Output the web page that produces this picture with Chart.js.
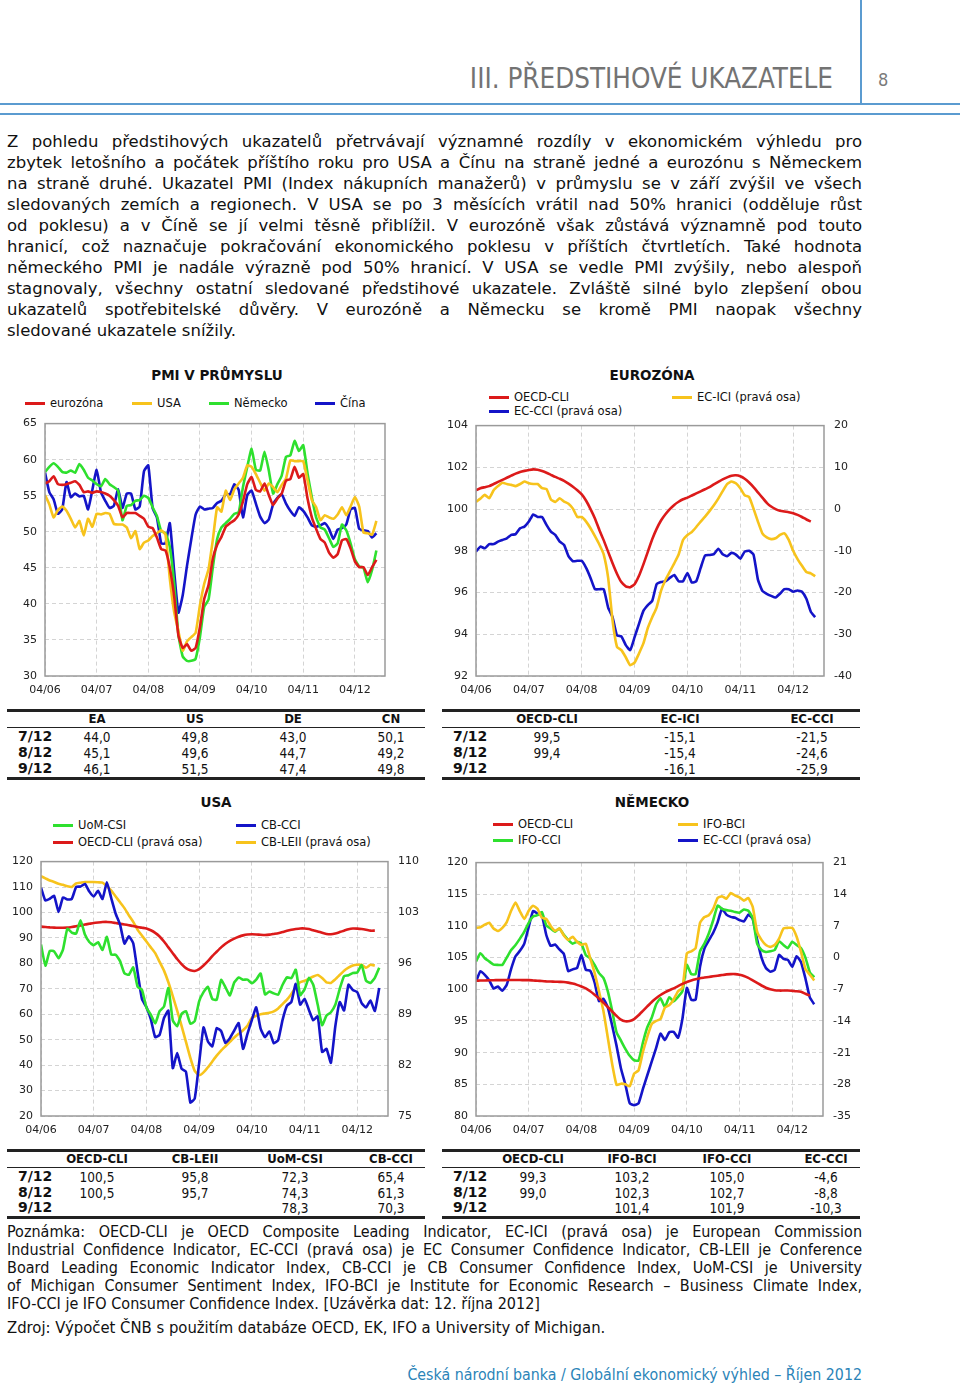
<!DOCTYPE html>
<html><head><meta charset="utf-8">
<script src="https://cdn.jsdelivr.net/npm/chart.js@4"></script>
<style>
body{margin:0;width:960px;height:1387px;position:relative;background:#fff;font-family:"DejaVu Sans",Verdana,sans-serif;color:#111;overflow:hidden}
.a{position:absolute}
.just div{text-align:justify;text-align-last:justify}
.just div.l{text-align-last:left}
.para{left:7px;top:131px;width:855px;font-size:16.5px;line-height:21px;color:#111}
.note{left:7px;top:1223px;width:855px;font-family:"Liberation Sans Narrow","DejaVu Sans Condensed","DejaVu Sans",sans-serif;font-stretch:condensed;font-size:16px;line-height:18px;color:#111}
.ctitle{font-weight:bold;font-size:13.5px;transform:translateX(-50%);white-space:nowrap}
.leg{font-size:11.5px;white-space:nowrap;line-height:14px}
.leg i{position:absolute;left:-25px;top:6px;width:20px;height:3px}
.tb{font-family:"Liberation Sans Narrow","DejaVu Sans Condensed","DejaVu Sans",sans-serif;font-stretch:condensed;font-size:13.5px;white-space:nowrap}
.hl{background:#222}
canvas{position:absolute}
</style></head>
<body>
<div class="a" style="left:860px;top:0;width:1.5px;height:104px;background:#5b9bd0"></div>
<div class="a" style="left:0;top:103px;width:960px;height:2px;background:#5b9bd0"></div>
<div class="a" style="left:0;top:113px;width:960px;height:2px;background:#5b9bd0"></div>
<div class="a" style="right:127px;top:62px;font-family:'Liberation Sans Narrow','DejaVu Sans Condensed','DejaVu Sans',sans-serif;font-stretch:condensed;font-size:27.5px;color:#737373;white-space:nowrap">III. PŘEDSTIHOVÉ UKAZATELE</div>
<div class="a" style="left:878px;top:69px;font-family:'Liberation Sans Narrow','DejaVu Sans Condensed','DejaVu Sans',sans-serif;font-size:18px;color:#7a7a7a">8</div>

<div class="a para just">
<div>Z pohledu předstihových ukazatelů přetrvávají významné rozdíly v ekonomickém výhledu pro</div>
<div>zbytek letošního a počátek příštího roku pro USA a Čínu na straně jedné a eurozónu s Německem</div>
<div>na straně druhé. Ukazatel PMI (Index nákupních manažerů) v průmyslu se v září zvýšil ve všech</div>
<div>sledovaných zemích a regionech. V USA se po 3 měsících vrátil nad 50% hranici (odděluje růst</div>
<div>od poklesu) a v Číně se jí velmi těsně přiblížil. V eurozóně však zůstává významně pod touto</div>
<div>hranicí, což naznačuje pokračování ekonomického poklesu v příštích čtvrtletích. Také hodnota</div>
<div>německého PMI je nadále výrazně pod 50% hranicí. V USA se vedle PMI zvýšily, nebo alespoň</div>
<div>stagnovaly, všechny ostatní sledované předstihové ukazatele. Zvláště silné bylo zlepšení obou</div>
<div>ukazatelů spotřebitelské důvěry. V eurozóně a Německu se kromě PMI naopak všechny</div>
<div class="l">sledované ukazatele snížily.</div>
</div>

<div class="a ctitle" style="left:217px;top:367px">PMI V PRŮMYSLU</div>
<div class="a ctitle" style="left:652px;top:367px">EUROZÓNA</div>
<div class="a ctitle" style="left:216px;top:794px">USA</div>
<div class="a ctitle" style="left:652px;top:794px">NĚMECKO</div>
<div id="legends"></div>

<canvas id="c1" width="400" height="294" style="left:0;top:409px;width:400px;height:294px"></canvas>
<canvas id="c2" width="450" height="294" style="left:430px;top:409px;width:450px;height:294px"></canvas>
<canvas id="c3" width="430" height="298" style="left:0;top:845px;width:430px;height:298px"></canvas>
<canvas id="c4" width="450" height="297" style="left:430px;top:846px;width:450px;height:297px"></canvas>

<div id="tables"></div>

<div class="a note just">
<div>Poznámka: OECD-CLI je OECD Composite Leading Indicator, EC-ICI (pravá osa) je European Commission</div>
<div>Industrial Confidence Indicator, EC-CCI (pravá osa) je EC Consumer Confidence Indicator, CB-LEII je Conference</div>
<div>Board Leading Economic Indicator Index, CB-CCI je CB Consumer Confidence Index, UoM-CSI je University</div>
<div>of Michigan Consumer Sentiment Index, IFO-BCI je Institute for Economic Research – Business Climate Index,</div>
<div class="l">IFO-CCI je IFO Consumer Confidence Index. [Uzávěrka dat: 12. října 2012]</div>
</div>
<div class="a" style="left:7px;top:1318px;font-family:'Liberation Sans Narrow','DejaVu Sans Condensed','DejaVu Sans',sans-serif;font-stretch:condensed;font-size:16.5px;color:#111;white-space:nowrap">Zdroj: Výpočet ČNB s použitím databáze OECD, EK, IFO a University of Michigan.</div>
<div class="a" style="right:98px;top:1365px;font-family:'Liberation Sans Narrow','DejaVu Sans Condensed','DejaVu Sans',sans-serif;font-stretch:condensed;font-size:15.8px;color:#2b84b8;white-space:nowrap">Česká národní banka / Globální ekonomický výhled – Říjen 2012</div>

<script>
// ---- tick labels (x axis, one per April) ----
const tickLabels = ['04/06','04/07','04/08','04/09','04/10','04/11','04/12'];

// ---- PMI v průmyslu, monthly 04/2006 - 09/2012 ----
const pmiEA = [56.7,57.0,57.7,56.6,56.5,56.6,56.8,57.0,56.5,55.5,55.6,55.4,
 55.6,55.5,55.3,55.0,54.4,53.6,52.0,52.6,52.6,52.6,52.2,51.8,
 50.7,50.5,49.2,47.6,47.4,45.0,41.1,35.6,33.9,34.4,33.5,33.9,
 36.8,40.7,42.6,46.3,48.2,49.3,50.7,51.2,51.6,52.4,54.2,56.6,
 57.6,55.8,55.6,56.7,55.1,53.7,54.6,55.3,57.1,57.3,59.0,57.5,
 58.0,54.6,52.0,50.4,49.0,48.5,47.1,46.4,46.9,48.8,49.0,47.7,
 45.9,45.1,45.1,44.0,45.1,46.1];
const pmiUS = [55.1,53.8,52.0,53.0,53.5,52.9,51.8,50.6,51.5,49.5,51.8,50.7,
 52.5,52.4,52.6,52.5,51.1,51.0,51.0,50.6,49.1,50.1,47.6,48.5,
 48.8,49.4,49.8,50.2,49.6,43.5,38.9,36.2,33.5,34.8,35.4,36.0,
 39.8,42.8,44.8,48.9,53.4,52.8,55.7,54.4,55.9,56.7,57.5,59.2,
 59.0,58.0,56.8,55.7,56.7,56.2,55.5,56.5,57.4,59.9,59.8,59.8,
 59.8,57.1,54.4,53.4,51.6,52.3,52.0,51.8,52.4,53.4,52.3,53.5,
 54.8,53.5,49.9,49.8,49.6,51.5];
const pmiDE = [58.3,59.0,59.5,59.0,58.3,58.2,58.5,58.2,59.4,58.6,57.5,57.1,
 56.6,56.3,57.3,56.6,56.2,55.7,51.6,53.6,53.7,54.3,54.4,55.0,
 54.7,53.4,52.2,50.1,49.8,47.9,42.9,35.7,32.7,32.1,32.1,32.4,
 35.4,39.6,40.6,45.1,49.0,50.6,51.2,51.8,52.5,52.7,56.2,59.0,
 61.5,58.6,58.5,61.1,58.5,55.3,56.6,57.8,60.4,60.6,62.6,61.2,
 62.0,58.1,54.8,52.0,50.6,50.3,49.1,47.9,48.4,51.0,50.2,48.4,
 46.2,45.2,45.0,43.0,44.7,47.4];
const pmiCN = [58.2,55.5,54.5,52.5,53.1,56.9,54.8,55.3,54.9,55.0,53.1,55.8,
 58.6,55.5,54.3,53.3,53.6,55.9,53.3,55.3,55.3,53.1,53.5,58.4,
 59.2,53.3,52.0,48.4,48.4,51.2,44.6,38.8,41.2,45.3,49.0,52.4,
 53.5,53.1,53.2,53.3,54.0,54.3,55.2,55.2,56.6,55.8,52.0,55.1,
 55.7,53.9,52.1,51.2,51.7,53.8,54.7,55.2,53.9,52.9,52.2,53.4,
 52.9,52.0,50.9,50.7,50.9,51.2,50.4,49.0,50.3,50.5,51.0,53.1,
 53.3,50.4,50.2,50.1,49.2,49.8];

// ---- Eurozóna ----
const eaCLI = [100.9,101.0,101.05,101.1,101.2,101.3,101.4,101.5,101.6,101.7,101.78,101.83,
 101.87,101.9,101.88,101.82,101.74,101.64,101.54,101.45,101.35,101.22,101.07,100.9,
 100.7,100.4,100.0,99.55,99.0,98.5,97.95,97.4,96.9,96.5,96.3,96.25,
 96.4,96.8,97.35,97.95,98.55,99.05,99.45,99.75,100.0,100.2,100.35,100.47,
 100.55,100.65,100.75,100.85,100.95,101.05,101.18,101.3,101.42,101.52,101.6,101.62,
 101.57,101.45,101.27,101.05,100.8,100.55,100.3,100.12,100.0,99.92,99.88,99.85,
 99.8,99.72,99.62,99.5,99.4,null];
const eaICI = [1.7,2.5,3.4,2.6,4.5,5.5,6.3,6.0,5.8,5.5,6.0,6.6,
 6.2,6.0,6.0,5.0,4.8,2.3,1.7,2.6,1.8,1.3,0.1,-1.9,
 -1.9,-3.0,-4.6,-6.5,-8.5,-10.9,-16.5,-26.7,-33.0,-33.8,-35.5,-37.4,
 -36.8,-34.6,-32.2,-28.5,-25.9,-23.6,-19.6,-17.0,-15.0,-13.0,-10.9,-7.4,
 -6.2,-5.5,-4.3,-3.0,-1.8,-0.5,0.9,2.5,4.3,6.0,6.6,6.2,
 5.0,3.3,2.9,0.1,-3.0,-5.8,-6.8,-7.2,-7.0,-6.2,-5.8,-7.4,
 -10.0,-12.0,-13.6,-15.1,-15.4,-16.1];
const eaCCI = [-10.2,-9.0,-9.4,-8.4,-8.4,-7.8,-7.4,-7.0,-6.2,-6.0,-4.6,-4.2,
 -3.0,-1.3,-1.9,-1.9,-3.8,-5.4,-6.2,-7.8,-8.6,-11.3,-12.5,-12.4,
 -12.4,-14.1,-16.5,-19.2,-19.2,-19.2,-23.6,-25.9,-30.3,-30.5,-32.6,-33.8,
 -30.7,-27.5,-24.4,-23.0,-22.0,-18.0,-17.5,-17.3,-16.5,-15.8,-17.3,-17.3,
 -15.3,-17.6,-17.3,-14.1,-11.1,-11.0,-10.8,-9.5,-10.8,-11.3,-10.5,-10.9,
 -11.9,-10.2,-10.0,-10.9,-16.9,-19.6,-20.3,-20.8,-21.2,-20.3,-19.2,-19.2,
 -19.8,-19.5,-19.8,-21.5,-24.6,-25.9];

// ---- USA ----
const usCSI = [87.4,79.1,84.9,84.7,82.0,85.4,93.6,92.1,91.7,96.9,91.3,88.4,
 87.1,88.3,85.3,90.4,83.4,83.4,80.9,76.1,75.5,78.4,70.8,69.5,
 62.6,59.8,56.4,61.2,63.0,70.3,57.6,55.3,60.1,61.2,56.3,57.3,
 65.1,68.7,70.8,66.0,65.7,73.5,70.6,67.4,72.5,74.4,73.6,73.6,
 72.2,73.6,76.0,67.8,68.9,68.2,67.7,71.6,74.5,74.2,77.5,67.5,
 69.8,74.3,71.5,63.7,55.7,59.5,60.8,63.7,69.9,75.0,75.3,76.2,
 76.4,79.3,73.2,72.3,74.3,78.3];
const usCCI = [109.8,104.7,105.4,106.5,100.2,105.9,105.1,105.3,110.0,110.2,111.2,108.2,
 106.3,108.5,105.3,111.9,105.6,99.5,95.2,87.8,90.6,87.9,76.4,65.9,
 62.8,58.1,51.0,51.9,58.5,61.4,38.8,44.7,38.6,37.4,25.3,26.9,
 40.8,54.8,49.3,47.4,54.5,53.4,48.7,50.6,53.6,56.5,46.4,52.3,
 57.7,62.7,54.3,51.0,53.2,48.6,49.9,57.8,63.4,64.8,72.0,63.8,
 66.0,61.7,57.6,59.2,45.2,46.4,40.9,55.2,64.8,61.5,71.6,69.5,
 68.7,64.4,62.7,65.4,61.3,70.3];
const usCLI = [101.05,101.0,100.95,100.92,100.9,100.9,100.92,101.0,101.1,101.2,101.35,101.45,
 101.55,101.62,101.68,101.7,101.65,101.55,101.45,101.35,101.25,101.15,101.0,100.9,
 100.8,100.55,100.2,99.7,99.0,98.2,97.4,96.6,95.9,95.35,95.05,94.95,
 95.2,95.7,96.3,97.0,97.6,98.2,98.7,99.1,99.4,99.65,99.85,99.97,
 100.0,99.98,99.93,99.9,99.95,100.05,100.15,100.3,100.48,100.62,100.72,100.8,
 100.8,100.72,100.55,100.4,100.2,100.05,100.0,100.1,100.3,100.5,100.7,100.8,
 100.78,100.72,100.62,100.5,100.5,null];
const usLEI = [108.0,107.7,107.4,107.2,106.95,106.8,106.6,106.5,107.0,107.1,107.2,107.2,
 107.2,107.15,107.1,106.6,106.0,105.2,104.4,103.6,102.6,101.7,100.6,99.8,
 99.0,98.2,97.4,96.2,95.0,93.4,91.5,89.5,87.4,85.2,83.0,81.2,
 80.6,81.0,81.7,82.5,83.3,84.0,84.6,85.2,85.8,86.3,86.8,87.4,
 88.5,88.8,89.0,89.1,89.2,89.4,89.8,90.4,91.0,91.8,92.7,93.4,
 93.6,93.9,94.2,94.4,94.0,93.4,93.3,93.8,94.4,95.0,95.4,95.7,
 95.8,95.8,95.4,95.8,95.7,null];

// ---- Německo ----
const deCLI = [101.35,101.38,101.4,101.42,101.44,101.45,101.45,101.46,101.47,101.47,101.46,101.45,
 101.45,101.4,101.35,101.3,101.25,101.22,101.2,101.17,101.15,101.05,100.9,100.7,
 100.45,100.15,99.7,99.15,98.55,97.9,97.2,96.5,95.8,95.2,94.95,95.0,
 95.3,95.9,96.6,97.3,98.0,98.6,99.1,99.5,99.85,100.15,100.5,100.85,
 101.15,101.4,101.6,101.75,101.85,101.95,102.05,102.15,102.25,102.35,102.4,102.4,
 102.3,102.1,101.8,101.4,101.0,100.6,100.25,100.0,99.85,99.8,99.8,99.8,
 99.75,99.7,99.6,99.3,99.0,null];
const deBCI = [109.7,109.8,110.2,110.5,109.6,109.2,109.7,110.6,112.4,113.7,112.3,111.1,
 112.4,113.2,112.7,111.3,111.1,110.0,109.2,109.6,108.5,107.8,108.3,107.5,
 107.0,107.2,104.9,102.6,99.7,96.6,92.4,88.2,84.9,85.1,85.0,84.7,
 86.7,87.2,90.1,92.5,94.5,95.0,95.3,97.1,97.5,98.4,99.7,100.2,
 105.7,106.0,106.5,110.5,111.4,111.7,112.7,114.4,114.7,114.3,115.2,114.8,
 114.5,114.0,114.4,113.0,109.1,107.8,107.0,106.7,107.0,108.0,109.6,109.7,
 109.7,108.3,105.9,103.2,102.3,101.4];
const deIFOCCI = [104.4,105.7,104.9,104.4,103.9,103.85,103.85,105.0,106.2,107.0,108.0,109.1,
 110.5,111.5,111.7,112.2,110.1,109.6,109.1,109.6,108.6,107.8,107.2,107.5,
 107.2,105.4,104.9,103.85,102.55,101.8,99.7,96.6,93.2,91.9,90.6,89.5,
 88.8,88.75,91.6,94.0,95.5,97.6,98.6,97.2,98.75,98.1,98.8,99.7,
 103.85,102.4,102.4,106.0,107.2,108.8,110.9,113.2,112.7,112.5,112.4,112.2,
 112.1,112.6,112.4,111.25,107.2,106.2,105.9,106.0,106.2,107.6,107.0,106.5,
 107.5,107.0,106.5,105.0,102.7,101.9];
const deECCCI = [-5.3,-3.0,-3.8,-5.0,-6.8,-6.4,-7.3,-6.0,-2.5,0.3,1.5,3.1,
 6.8,10.3,9.7,9.3,5.0,2.6,2.9,1.8,0.8,-3.0,-2.6,-2.3,
 0.6,-2.7,-2.9,-5.5,-9.6,-9.1,-11.0,-15.0,-19.5,-24.5,-28.0,-32.2,
 -32.6,-32.2,-29.0,-26.0,-23.0,-20.0,-16.8,-18.2,-16.5,-16.4,-17.7,-13.5,
 -6.7,-9.3,-9.3,-2.0,2.0,3.8,5.5,7.8,10.8,9.5,9.0,8.8,
 8.3,8.0,9.5,8.6,4.0,0.0,-2.3,-3.1,-2.7,0.6,-0.3,-0.5,
 -2.0,0.3,-1.0,-4.6,-8.8,-10.3];

// ---- tables ----
const rowLabels = ['7/12','8/12','9/12'];
const tPMIhead = ['EA','US','DE','CN'];
const tPMI = [['44,0','49,8','43,0','50,1'],['45,1','49,6','44,7','49,2'],['46,1','51,5','47,4','49,8']];
const tEAhead = ['OECD-CLI','EC-ICI','EC-CCI'];
const tEA = [['99,5','-15,1','-21,5'],['99,4','-15,4','-24,6'],['','-16,1','-25,9']];
const tUShead = ['OECD-CLI','CB-LEII','UoM-CSI','CB-CCI'];
const tUS = [['100,5','95,8','72,3','65,4'],['100,5','95,7','74,3','61,3'],['','','78,3','70,3']];
const tDEhead = ['OECD-CLI','IFO-BCI','IFO-CCI','EC-CCI'];
const tDE = [['99,3','103,2','105,0','-4,6'],['99,0','102,3','102,7','-8,8'],['','101,4','101,9','-10,3']];

const C = {red:'#dc1a1a', yel:'#f7c31c', grn:'#2ee02e', blu:'#1414c8'};

// ---- legends ----
const legendDefs = [
  [['eurozóna',C.red,50,396],['USA',C.yel,157,396],['Německo',C.grn,234,396],['Čína',C.blu,340,396]],
  [['OECD-CLI',C.red,514,390],['EC-CCI (pravá osa)',C.blu,514,404],['EC-ICI (pravá osa)',C.yel,697,390]],
  [['UoM-CSI',C.grn,78,818],['OECD-CLI (pravá osa)',C.red,78,835],['CB-CCI',C.blu,261,818],['CB-LEII (pravá osa)',C.yel,261,835]],
  [['OECD-CLI',C.red,518,817],['IFO-CCI',C.grn,518,833],['IFO-BCI',C.yel,703,817],['EC-CCI (pravá osa)',C.blu,703,833]]
];
let lh='';
legendDefs.forEach(g=>g.forEach(([t,c,x,y])=>{lh+=`<div class="a leg" style="left:${x}px;top:${y}px"><i style="background:${c}"></i>${t}</div>`;}));
document.getElementById('legends').innerHTML=lh;

// ---- tables html ----
function table(x0,x1,yTop,rowYs,heads,rows,cols){
  let h=`<div class="a hl" style="left:${x0}px;top:${yTop}px;width:${x1-x0}px;height:2.5px"></div>`;
  h+=`<div class="a hl" style="left:${x0}px;top:${yTop+18}px;width:${x1-x0}px;height:1px"></div>`;
  h+=`<div class="a hl" style="left:${x0}px;top:${rowYs[2]+8}px;width:${x1-x0}px;height:2.5px"></div>`;
  heads.forEach((t,i)=>{h+=`<div class="a tb" style="left:${cols[i]}px;top:${yTop+2}px;transform:translateX(-50%);font-weight:bold;font-size:13px">${t}</div>`;});
  rowLabels.forEach((r,j)=>{h+=`<div class="a tb" style="left:${x0+11}px;top:${rowYs[j]-9}px;font-weight:bold;font-size:14px;font-family:'DejaVu Sans';font-stretch:normal">${r}</div>`;
    rows[j].forEach((v,i)=>{h+=`<div class="a tb" style="left:${cols[i]}px;top:${rowYs[j]-8}px;transform:translateX(-50%)">${v}</div>`;});});
  return h;
}
let th='';
th+=table(7,425,709,[737,753,769],tPMIhead,tPMI,[97,195,293,391]);
th+=table(442,860,709,[737,753,769],tEAhead,tEA,[547,680,812]);
th+=table(7,425,1149,[1177,1193,1208],tUShead,tUS,[97,195,295,391]);
th+=table(442,860,1149,[1177,1193,1208],tDEhead,tDE,[533,632,727,826]);
document.getElementById('tables').innerHTML=th;

// ---- charts ----
const boxPlugin={id:'box',afterDraw(ch){const a=ch.chartArea,c=ch.ctx;c.save();c.strokeStyle='#9a9a9a';c.lineWidth=1.5;c.strokeRect(a.left,a.top,a.right-a.left,a.bottom-a.top);c.restore();}};
const tickFont={family:'DejaVu Sans',size:11};
function ser(arr,color,axis){return {data:arr.map((v,i)=>({x:i,y:v})),borderColor:color,borderWidth:2.6,pointRadius:0,tension:0.15,fill:false,yAxisID:axis||'y',spanGaps:false};}
function yAxis(min,max,step,pos,w,grid){return {type:'linear',position:pos,min:min,max:max,
  ticks:{stepSize:step,font:tickFont,color:'#222',padding:pos==='left'?8:10},
  grid:{display:grid,color:'#d4d4d4',lineWidth:1,drawTicks:false},
  border:{display:false,dash:[4,3]},
  afterFit:s=>{s.width=w;}};}
function makeChart(id,datasets,yl,yr,lw,rw,xh){
  const scales={
    x:{type:'linear',min:0,max:79,
      afterBuildTicks:s=>{s.ticks=s.ticks.filter(t=>t.value%12===0);},
      ticks:{stepSize:12,autoSkip:false,maxRotation:0,font:tickFont,color:'#222',padding:8,callback:v=>tickLabels[Math.round(v/12)]},
      grid:{color:'#d4d4d4',lineWidth:1,drawTicks:false},border:{display:false,dash:[4,3]},
      afterFit:s=>{s.height=xh;}},
    y:yAxis(yl[0],yl[1],yl[2],'left',lw,true)};
  if(yr) scales.y1=yAxis(yr[0],yr[1],yr[2],'right',rw,false);
  return new Chart(document.getElementById(id),{type:'line',data:{datasets:datasets},
    options:{responsive:false,animation:false,devicePixelRatio:1,
      layout:{padding:{top:5,right:yr?0:15,left:0,bottom:0}},
      plugins:{legend:{display:false},tooltip:{enabled:false}},scales:scales},plugins:[boxPlugin]});
}
makeChart('c1',[ser(pmiEA,C.red),ser(pmiUS,C.yel),ser(pmiDE,C.grn),ser(pmiCN,C.blu)],[30,65,5],null,45,0,27);
makeChart('c2',[ser(eaCLI,C.red),ser(eaICI,C.yel,'y1'),ser(eaCCI,C.blu,'y1')],[92,104,2],[-40,20,10],46,56,27);
makeChart('c3',[ser(usCSI,C.grn),ser(usCCI,C.blu),ser(usCLI,C.red,'y1'),ser(usLEI,C.yel,'y1')],[20,120,10],[75,110,7],41,42,27);
makeChart('c4',[ser(deCLI,C.red),ser(deBCI,C.yel),ser(deIFOCCI,C.grn),ser(deECCCI,C.blu,'y1')],[80,120,5],[-35,21,7],46,57,27);
</script>
</body></html>
